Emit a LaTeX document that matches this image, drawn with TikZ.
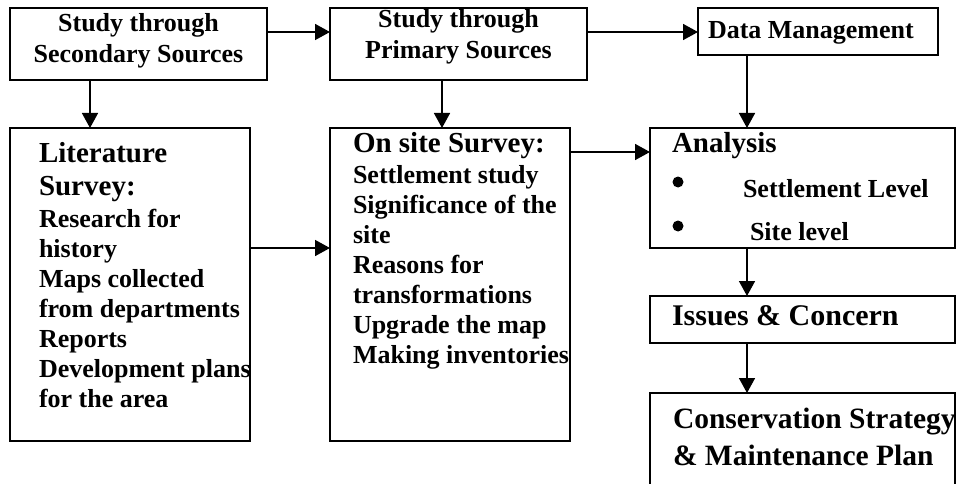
\documentclass[tikz,border=0pt]{standalone}
\usepackage{fontspec}
\setmainfont{Liberation Serif}
\usetikzlibrary{arrows.meta}
\tikzset{
  box/.style={draw=black, line width=1.6pt, inner sep=0pt, outer sep=0pt, fill=white},
  arr/.style={line width=1.6pt, -{Triangle[length=15pt,width=16pt]}},
  txt/.style={inner sep=0pt, outer sep=0pt, anchor=base west, font=\bfseries\fontsize{26}{30}\selectfont},
  ctxt/.style={txt, anchor=base},
  ttl/.style={txt, font=\bfseries\fontsize{29}{33}\selectfont},
  big/.style={txt, font=\bfseries\fontsize{30}{36}\selectfont},
  bul/.style={circle, fill=black, inner sep=0pt, minimum size=11pt}
}
\begin{document}
\begin{tikzpicture}[x=1pt, y=-1pt]
\useasboundingbox[fill=white] (0,0) rectangle (958,484);
% boxes
\node[box, minimum width=257pt, minimum height=72pt] (A) at (138.5,44) {};
\node[box, minimum width=257pt, minimum height=72pt] (B) at (458.5,44) {};
\node[box, minimum width=240pt, minimum height=47pt] (C) at (818,31.5) {};
\node[box, minimum width=240pt, minimum height=313pt] (D) at (130,284.5) {};
\node[box, minimum width=240pt, minimum height=313pt] (E) at (450,284.5) {};
\node[box, minimum width=305pt, minimum height=120pt] (F) at (802.5,188) {};
\node[box, minimum width=305pt, minimum height=47pt] (G) at (802.5,319.5) {};
\begin{scope}
\clip (0,0) rectangle (958,484);
\node[box, minimum width=305pt, minimum height=130pt] (H) at (802.5,458) {};
\end{scope}
% texts
\node[ctxt] (a1) at (138.5,32) {Study through};
\node[ctxt] (a2) at (138.5,63) {Secondary Sources};
\node[ctxt] (b1) at (458.5,28) {Study through};
\node[ctxt] (b2) at (458.5,59) {Primary Sources};
\node[txt] (c1) at (708,39) {Data Management};
\node[ttl] (d1) at (39,162) {Literature};
\node[ttl] (d2) at (39,195) {Survey:};
\foreach \t [count=\i] in {Research for, history, Maps collected, from departments, Reports, Development plans, for the area}
  \node[txt] (d\i x) at (39,{197+30*\i}) {\t};
\node[ttl] (e1) at (353,152) {On site Survey:};
\foreach \t [count=\i] in {Settlement study, Significance of the, site, Reasons for, transformations, Upgrade the map, Making inventories}
  \node[txt] (e\i x) at (353,{153+30*\i}) {\t};
\node[ttl] (f1) at (672,152) {Analysis};
\node[bul] (fb1) at (678,182) {};
\node[bul] (fb2) at (678,226) {};
\node[txt] (f2) at (743,197) {Settlement Level};
\node[txt] (f3) at (750,240) {Site level};
\node[big] (g1) at (672,325) {Issues \& Concern};
\node[ttl, font=\bfseries\fontsize{29.5}{36}\selectfont] (h1) at (673,428) {Conservation Strategy};
\node[ttl, font=\bfseries\fontsize{29.5}{36}\selectfont] (h2) at (673,465) {\& Maintenance Plan};
% connectors
\draw[arr] ([yshift=12pt]A.east) -- ([yshift=12pt]A.east -| B.west);
\draw[arr] ([yshift=12pt]B.east) -- ([yshift=12pt]B.east -| C.west);
\draw[arr] ([xshift=-48.5pt]A.south) -- ([xshift=-48.5pt]A.south |- D.north);
\draw[arr] ([xshift=-16.5pt]B.south) -- ([xshift=-16.5pt]B.south |- E.north);
\draw[arr] ([xshift=-71pt]C.south) -- ([xshift=-71pt]C.south |- F.north);
\draw[arr] ([yshift=36.5pt]D.east) -- ([yshift=36.5pt]D.east -| E.west);
\draw[arr] ([yshift=132.5pt]E.east) -- ([yshift=132.5pt]E.east -| F.west);
\draw[arr] ([xshift=-55.5pt]F.south) -- ([xshift=-55.5pt]F.south |- G.north);
\draw[arr] ([xshift=-55.5pt]G.south) -- ([xshift=-55.5pt]G.south |- H.north);
\end{tikzpicture}
\end{document}
